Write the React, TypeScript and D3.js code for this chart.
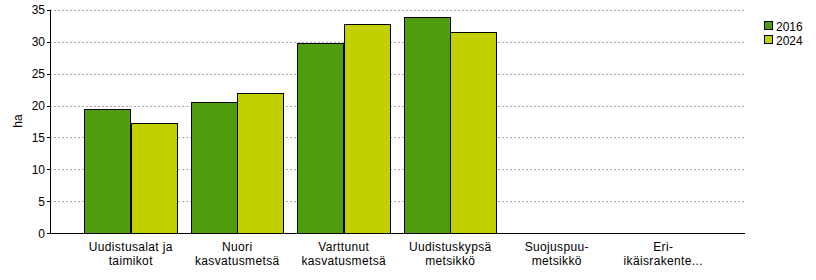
import React from 'react';
import * as d3 from 'd3';

const categories = [
  ['Uudistusalat ja', 'taimikot'],
  ['Nuori', 'kasvatusmetsä'],
  ['Varttunut', 'kasvatusmetsä'],
  ['Uudistuskypsä', 'metsikkö'],
  ['Suojuspuu-', 'metsikkö'],
  ['Eri-', 'ikäisrakente...'],
];
const series = ['2016', '2024'];
const values2016 = [19.4, 20.6, 29.8, 33.9, 0, 0];
const values2024 = [17.3, 22.0, 32.7, 31.5, 0, 0];
const yTicks = [0, 5, 10, 15, 20, 25, 30, 35];
const colors = ['#509c0f', '#c2d000'];

const width = 816;
const height = 280;
const left = 50;
const right = 745;
const top = 9.7;
const bottom = 233.3;
const font = 'Liberation Sans, Arial, sans-serif';

export default function App() {
  const yScale = d3.scaleLinear().domain([0, 35]).range([bottom, top]);
  const keys = categories.map((c, i) => String(i));
  const xScale = d3.scaleBand().domain(keys).range([77.5, 716.5]).paddingInner(0.13).paddingOuter(0.065);
  const inner = d3.scaleBand().domain(series).range([0, xScale.bandwidth()]);
  const data = [values2016, values2024];

  return (
    <svg width={width} height={height} style={{ position: 'absolute', left: 0, top: 0 }} fontFamily={font}>
      <rect x={0} y={0} width={width} height={height} fill='#fff' />
      {yTicks.map((t) => (
        <g key={t}>
          {t > 0 && (
            <line x1={left} x2={right} y1={Math.round(yScale(t)) + 0.5} y2={Math.round(yScale(t)) + 0.5}
              stroke='#aaa' strokeDasharray='2,2' />
          )}
          <line x1={left - 3} x2={left} y1={Math.round(yScale(t)) + 0.5} y2={Math.round(yScale(t)) + 0.5} stroke='#000' />
          <text x={left - 5} y={yScale(t) + 4.5} textAnchor='end' fontSize={12} fill='#000'>{t}</text>
        </g>
      ))}
      {keys.map((k, i) => (
        <g key={k}>
          {series.map((s, j) => {
            const v = data[j][i];
            if (v <= 0) return null;
            const y = yScale(v);
            return (
              <rect key={s} x={Math.round(xScale(k)! + inner(s)!) + 0.5} y={Math.round(y) + 0.5}
                width={Math.round(inner.bandwidth())} height={Math.round(bottom) - Math.round(y)}
                fill={colors[j]} stroke='#000' strokeWidth={1} />
            );
          })}
          {categories[i].map((line, li) => (
            <text key={li} x={xScale(k)! + xScale.bandwidth() / 2} y={251 + li * 13.5} textAnchor='middle'
              fontSize={12} letterSpacing={0.35} fill='#000'>{line}</text>
          ))}
        </g>
      ))}
      <line x1={left + 0.5} x2={left + 0.5} y1={top} y2={Math.round(bottom) + 0.5} stroke='#000' />
      <line x1={left} x2={right} y1={Math.round(bottom) + 0.5} y2={Math.round(bottom) + 0.5} stroke='#000' />
      <text transform={`translate(22,121) rotate(-90)`} textAnchor='middle' fontSize={12} fill='#000'>ha</text>
      {series.map((s, j) => (
        <g key={s}>
          <rect x={764.5} y={21.5 + j * 14} width={8} height={8} fill={colors[j]} stroke='#000' />
          <text x={776} y={31 + j * 14} fontSize={12} fill='#000'>{s}</text>
        </g>
      ))}
    </svg>
  );
}
